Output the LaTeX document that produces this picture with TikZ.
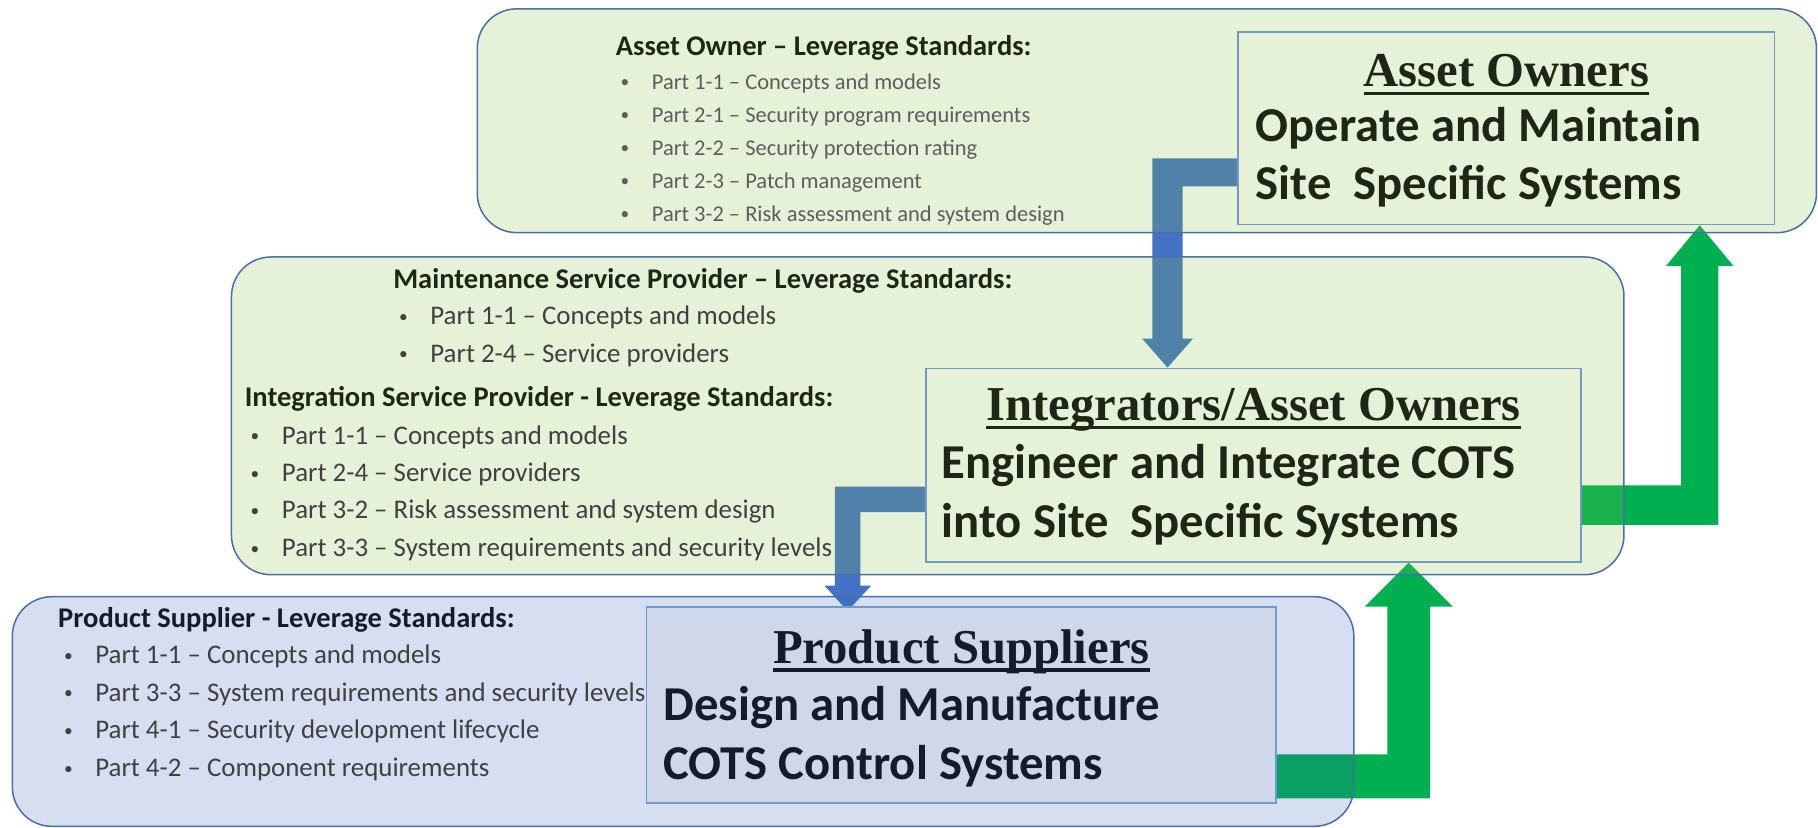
\documentclass[tikz,border=0pt]{standalone}
\usepackage{fontspec}
\setmainfont{Carlito}
\newfontfamily\titlefont{Liberation Serif}
\usetikzlibrary{positioning,calc}
\pgfdeclarelayer{back}
\pgfsetlayers{back,main}
\definecolor{greentint}{HTML}{82BE3C}
\definecolor{bluetint}{HTML}{325FB9}
\definecolor{boxgreen}{HTML}{E6F2D8}
\definecolor{boxblue}{HTML}{CFD8EA}
\definecolor{rimblue}{HTML}{4A6EA9}
\definecolor{boxrim}{HTML}{7399C8}
\definecolor{arrowblue}{HTML}{4472C4}
\definecolor{arrowgreen}{HTML}{00B050}
\definecolor{inkgreen}{HTML}{1E2716}
\definecolor{inknavy}{HTML}{141B2E}
\definecolor{listgrey}{HTML}{404040}
\newcommand{\titleul}[1]{\setbox0\hbox{#1}\rlap{\rule[-7pt]{\wd0}{3pt}}\box0}
\newcommand{\bul}{\makebox[27pt][l]{\raisebox{2pt}{\fontsize{15}{15}\selectfont\textbullet}}}

\begin{document}
\begin{tikzpicture}[x=1pt,y=-1pt,
  panel/.style={draw=rimblue,line width=1.3pt,fill opacity=0.2,rounded corners=34pt,anchor=north west,inner sep=0pt},
  rolebox/.style={draw=boxrim,line width=1.3pt,anchor=north west,inner sep=0pt},
  head/.style={anchor=mid west,inner sep=0pt,font=\bfseries\fontsize{24.6}{27}\selectfont},
  item/.style={anchor=mid west,inner sep=0pt,text=listgrey,font=\fontsize{23.2}{25}\selectfont},
  smallitem/.style={item,text=listgrey!85,font=\fontsize{19.4}{21}\selectfont},
  roletitle/.style={inner sep=0pt,anchor=north,font=\titlefont\bfseries\fontsize{42}{44}\selectfont},
  role/.style={anchor=mid west,inner sep=0pt,font=\bfseries\fontsize{42}{44}\selectfont}]

  \useasboundingbox (0,0) rectangle (1568,714);

  % panels
  \node[panel,fill=greentint,minimum width=1155pt,minimum height=193pt] (aoPanel) at (411,7) {};
  \node[panel,fill=greentint,minimum width=1201pt,minimum height=274pt] (intPanel) at (199,221) {};
  \node[panel,fill=bluetint,minimum width=1157pt,minimum height=198pt] (psPanel) at (10,514) {};

  \node[rolebox,fill=boxgreen,minimum width=463pt,minimum height=166pt] (aoBox) at (1067,27) {};
  \node[rolebox,fill=boxgreen,minimum width=565pt,minimum height=167pt] (intBox) at (798,317) {};
  \node[rolebox,fill=boxblue,minimum width=543pt,minimum height=169pt] (psBox) at (557,523) {};

  % role boxes
  \node[roletitle,text=inkgreen,below=20pt of aoBox.north] (aoTitle) {\titleul{Asset Owners}};
  \node[role,text=inkgreen] (aoLine1) at ($(aoBox.north west)+(16,93)$) {Operate and Maintain};
  \node[role,text=inkgreen] (aoLine2) at ($(aoLine1.mid west)+(0,50)$) {Site\ \ Specific Systems};

  \node[roletitle,text=inkgreen,below=18pt of intBox.north] (intTitle) {\titleul{Integrators/Asset Owners}};
  \node[role,text=inkgreen] (intLine1) at ($(intBox.north west)+(14,93)$) {Engineer and Integrate COTS};
  \node[role,text=inkgreen] (intLine2) at ($(intLine1.mid west)+(0,51)$) {into Site\ \ Specific Systems};

  \node[roletitle,text=inknavy,below=20pt of psBox.north] (psTitle) {\titleul{Product Suppliers}};
  \node[role,text=inknavy] (psLine1) at ($(psBox.north west)+(15,96)$) {Design and Manufacture};
  \node[role,text=inknavy] (psLine2) at ($(psLine1.mid west)+(0,51)$) {COTS Control Systems};

  % standards lists
  \node[head,text=inkgreen] (aoHead) at (531,45.5) {Asset Owner -- Leverage Standards:};
  \foreach \t [count=\i] in {Part 1-1 -- Concepts and models,Part 2-1 -- Security program requirements,
      Part 2-2 -- Security protection rating,Part 2-3 -- Patch management,Part 3-2 -- Risk assessment and system design}
    \node[smallitem] (ao\i) at ($(aoHead.west)+(4,5+28.5*\i)$) {\bul\t};

  \node[head,text=inkgreen] (mspHead) at (339,246.5) {Maintenance Service Provider -- Leverage Standards:};
  \foreach \t [count=\i] in {Part 1-1 -- Concepts and models,Part 2-4 -- Service providers}
    \node[item] (msp\i) at ($(mspHead.west)+(5,2.5+32.5*\i)$) {\bul\t};

  \node[head,text=inkgreen] (ispHead) at (211,348.5) {Integration Service Provider - Leverage Standards:};
  \foreach \t [count=\i] in {Part 1-1 -- Concepts and models,Part 2-4 -- Service providers,
      Part 3-2 -- Risk assessment and system design,Part 3-3 -- System requirements and security levels}
    \node[item] (isp\i) at ($(ispHead.west)+(5,4+32.3*\i)$) {\bul\t};

  \node[head,text=inknavy] (psHead) at (50,538.5) {Product Supplier - Leverage Standards:};
  \foreach \t [count=\i] in {Part 1-1 -- Concepts and models,Part 3-3 -- System requirements and security levels,
      Part 4-1 -- Security development lifecycle,Part 4-2 -- Component requirements}
    \node[item] (ps\i) at ($(psHead.west)+(5,3+32.5*\i)$) {\bul\t};

  % block arrows
  \begin{pgfonlayer}{back}
  \coordinate (a1s) at ($(aoBox.west)+(0,38)$);
  \coordinate (a1t) at ($(intBox.north west)+(209,0)$);
  \fill[arrowblue] ($(a1s)+(0,-12)$) -| ($(a1t)+(-13,-25)$) -- ++(-9,0) -- (a1t) -- ++(22,-25) -- ++(-9,0) |- ($(a1s)+(0,12)$) -- cycle;

  \coordinate (a2s) at ($(intBox.west)+(0,29.5)$);
  \coordinate (a2t) at ($(psBox.north west)+(174,4)$);
  \fill[arrowblue] ($(a2s)+(0,-11)$) -| ($(a2t)+(-11,-22)$) -- ++(-9,0) -- (a2t) -- ++(20.5,-22) -- ++(-9.5,0) |- ($(a2s)+(0,11)$) -- cycle;

  \coordinate (g1s) at ($(intBox.east)+(0,34.5)$);
  \coordinate (g1t) at ($(aoBox.south west)+(399,0)$);
  \fill[arrowgreen] ($(g1s)+(0,17)$) -| ($(g1t)+(16,35)$) -- ++(13,0) -- (g1t) -- ++(-29,35) -- ++(13,0) |- ($(g1s)+(0,-17)$) -- cycle;

  \coordinate (g2s) at ($(psBox.east)+(0,61.5)$);
  \coordinate (g2t) at ($(intBox.south west)+(417,0)$);
  \fill[arrowgreen] ($(g2s)+(0,19)$) -| ($(g2t)+(18.5,38)$) -- ++(19.5,0) -- (g2t) -- ++(-38,38) -- ++(19.5,0) |- ($(g2s)+(0,-19)$) -- cycle;
  \end{pgfonlayer}

\end{tikzpicture}
\end{document}
